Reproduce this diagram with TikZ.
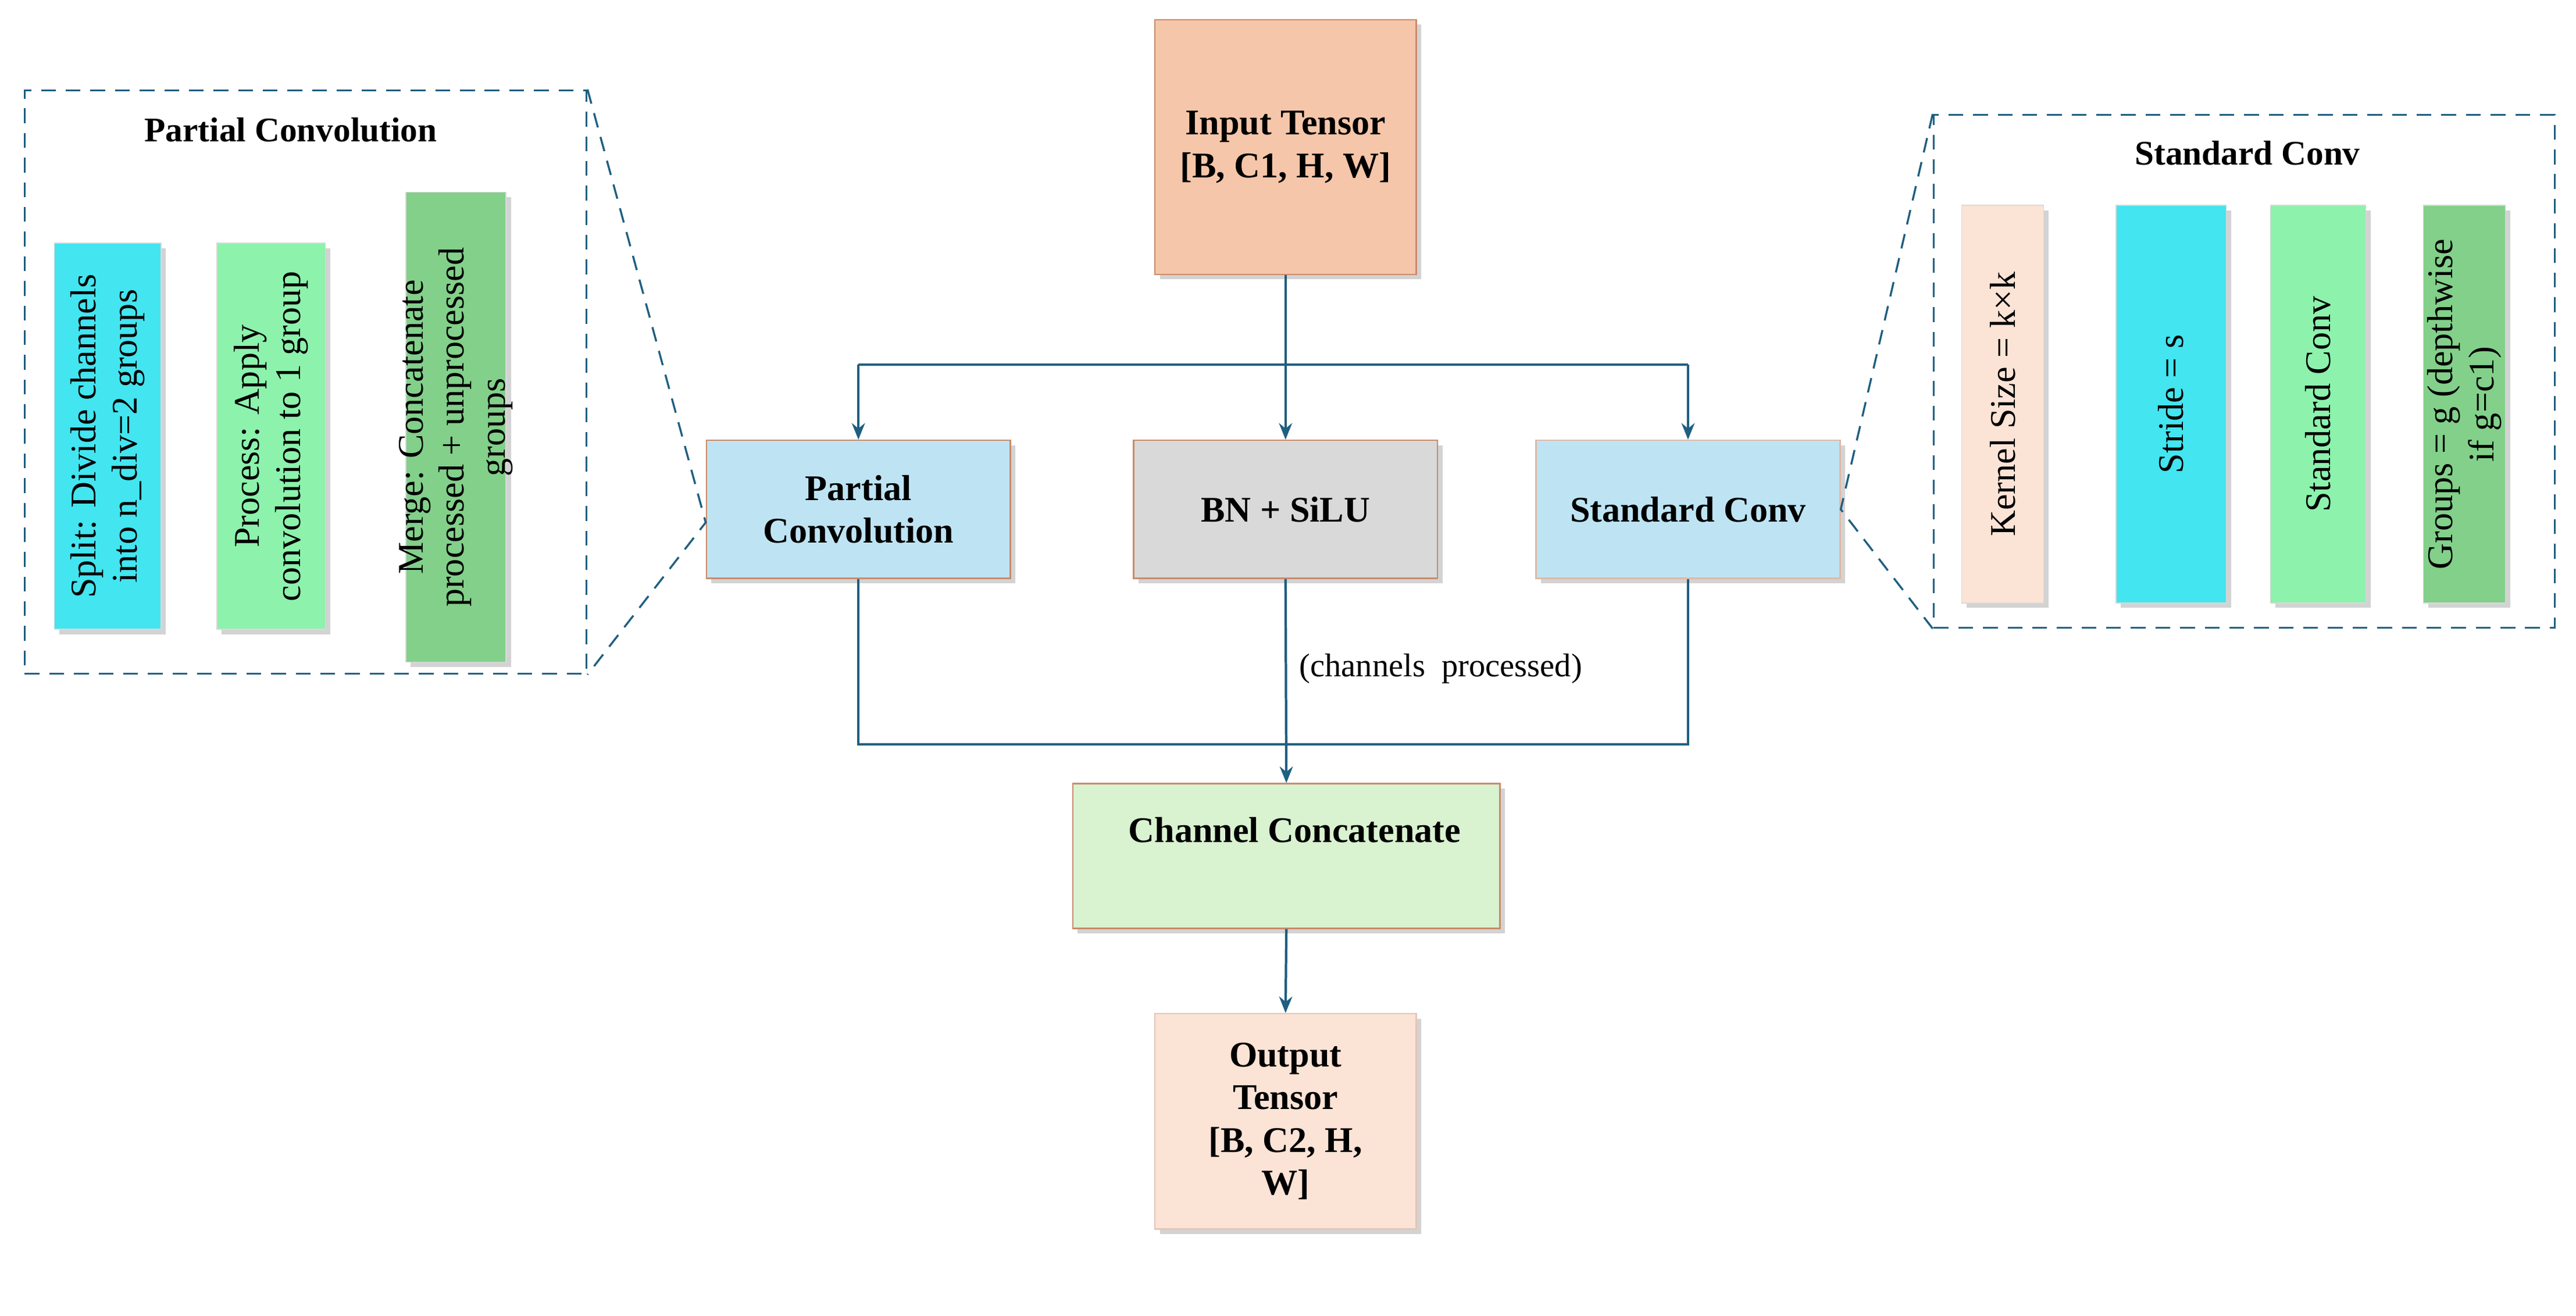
\documentclass[tikz,border=0pt]{standalone}
\usepackage{fontspec}
\setmainfont{Liberation Serif}
\usetikzlibrary{shadows,arrows.meta}
\definecolor{ln}{HTML}{1F5F80}
\definecolor{brd}{HTML}{C98A6A}
\definecolor{peach}{HTML}{F5C6A9}
\definecolor{lblue}{HTML}{BEE4F4}
\definecolor{lgray}{HTML}{D9D9D9}
\definecolor{lgreen}{HTML}{D9F2D0}
\definecolor{pink}{HTML}{FBE3D6}
\definecolor{cyanb}{HTML}{42E5F0}
\definecolor{mint}{HTML}{8CF2AC}
\definecolor{grn}{HTML}{82D08A}
\begin{document}
\begin{tikzpicture}[x=1pt,y=-1pt,
  box/.style={draw=brd,line width=0.9pt,drop shadow={opacity=0.35,shadow xshift=3pt,shadow yshift=-3pt},font=\bfseries\fontsize{22}{26}\selectfont,align=center,inner sep=0pt},
  bar/.style={draw=black!15,line width=0.5pt,drop shadow={opacity=0.35,shadow xshift=3pt,shadow yshift=-3pt},inner sep=0pt},
  btxt/.style={rotate=90,font=\fontsize{22}{25}\selectfont,align=center},
  dsh/.style={draw=ln,line width=1.2pt,dash pattern=on 9pt off 6pt},
  arr/.style={draw=ln,line width=1.5pt,-{Stealth[length=10pt,width=8pt]}},
  lnk/.style={draw=ln,line width=1.5pt}]
\useasboundingbox (0,0) rectangle (1568,800.7);
% main boxes
\node[box,fill=peach,minimum width=159pt,minimum height=155pt] (in) at (782.5,89.5) {Input Tensor\\{}[B, C1, H, W]};
\node[box,fill=lblue,minimum width=185pt,minimum height=84pt] (pc) at (522.5,310) {Partial\\Convolution};
\node[box,fill=lgray,minimum width=185pt,minimum height=84pt] (bn) at (782.5,310) {BN + SiLU};
\node[box,fill=lblue,draw=brd!60,minimum width=185pt,minimum height=84pt] (sc) at (1027.5,310) {Standard Conv};
\node[box,fill=lgreen,minimum width=260pt,minimum height=88pt] (cc) at (783,521) {};
\node[font=\bfseries\fontsize{22}{26}\selectfont] (cct) at (788,505) {Channel Concatenate};
\node[box,fill=pink,draw=brd!50,minimum width=159pt,minimum height=131pt] (out) at (782.5,682.5) {Output\\Tensor\\{}[B, C2, H,\\W]};
% connectors
\coordinate (j) at (782.5,222);
\coordinate (jl) at (522.5,222);
\coordinate (jr) at (1027.5,222);
\draw[lnk] (in.south) -- (j);
\draw[lnk] (jl) -- (jr);
\draw[arr] (jl) -- (pc.north);
\draw[arr] (j) -- (bn.north);
\draw[arr] (jr) -- (sc.north);
\coordinate (bl) at (522.5,453);
\coordinate (br) at (1027.5,453);
\draw[lnk] (pc.south) -- (bl) -- (br) -- (sc.south);
\draw[arr] (bn.south) -- (cc.north);
\node[font=\fontsize{20}{24}\selectfont] (lab) at (877,407) {(channels\enspace processed)};
\draw[arr] (cc.south) -- (out.north);
% left detail
\node[dsh,minimum width=342pt,minimum height=355pt,inner sep=0pt] (lbox) at (186,232.5) {};
\node[font=\bfseries\fontsize{21}{24}\selectfont] (lt) at (177,79) {Partial Convolution};
\node[bar,fill=cyanb,minimum width=65pt,minimum height=235pt] (b1) at (65.5,265.5) {};
\node[btxt] at (b1) {Split: Divide channels\\into n\_div=2 groups};
\node[bar,fill=mint,minimum width=66pt,minimum height=235pt] (b2) at (165,265.5) {};
\node[btxt] at (b2) {Process: Apply\\convolution to 1 group};
\node[bar,fill=grn,minimum width=61pt,minimum height=286pt] (b3) at (277.5,260) {};
\node[btxt] at (b3) {Merge: Concatenate\\processed + unprocessed\\groups};
\coordinate (pl) at ([yshift=-8pt]pc.west);
\draw[dsh] (lbox.north east) -- (pl) -- (lbox.south east);
% right detail
\node[dsh,minimum width=378pt,minimum height=312pt,inner sep=0pt] (rbox) at (1366,226) {};
\node[font=\bfseries\fontsize{21}{24}\selectfont] (rt) at (1368,93) {Standard Conv};
\node[bar,fill=pink,minimum width=50pt,minimum height=242pt] (k1) at (1219,246) {};
\node[btxt] at (k1) {Kernel Size = k×k};
\node[bar,fill=cyanb,minimum width=67pt,minimum height=242pt] (k2) at (1321.5,246) {};
\node[btxt] at (k2) {Stride = s};
\node[bar,fill=mint,minimum width=58pt,minimum height=242pt] (k3) at (1411,246) {};
\node[btxt] at (k3) {Standard Conv};
\node[bar,fill=grn,minimum width=50pt,minimum height=242pt] (k4) at (1500,246) {};
\node[btxt] at (k4) {Groups = g (depthwise\\if g=c1)};
\draw[dsh] (rbox.north west) -- (sc.east) -- (rbox.south west);
\end{tikzpicture}
\end{document}
